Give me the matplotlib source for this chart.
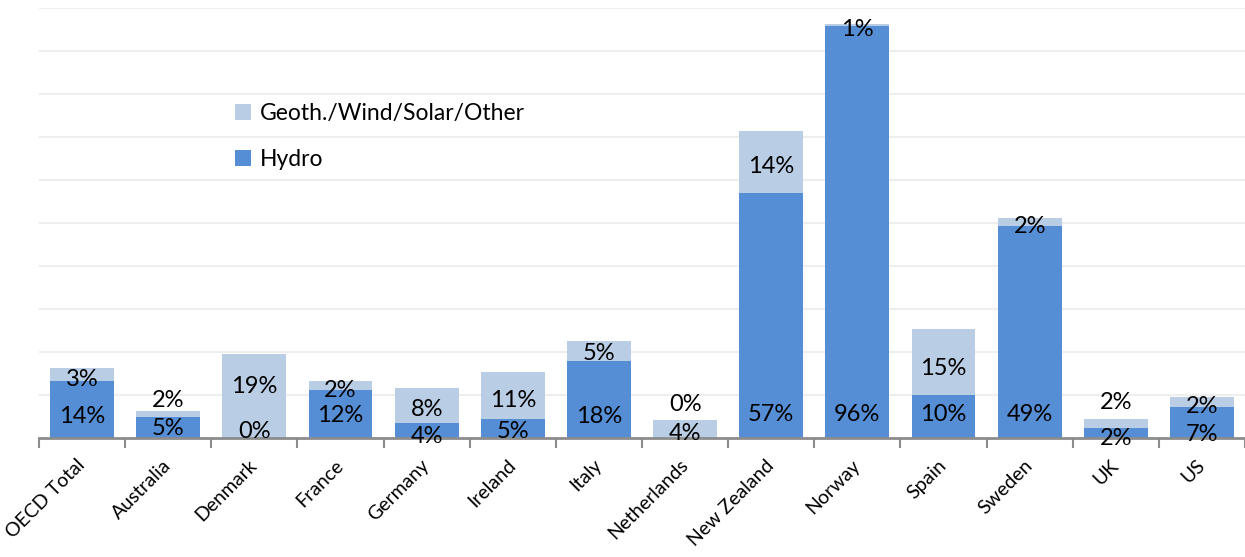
import matplotlib
matplotlib.use("Agg")
import matplotlib.pyplot as plt
import numpy as np

# --- data (percent of electricity generation) ---
countries = ['OECD Total', 'Australia', 'Denmark', 'France', 'Germany', 'Ireland', 'Italy',
             'Netherlands', 'New Zealand', 'Norway', 'Spain', 'Sweden', 'UK', 'US']
hydro = [13.2, 4.8, 0.0, 11.0, 3.4, 4.3, 17.9, 0.0, 56.9, 95.7, 9.8, 49.2, 2.1, 7.2]
other = [3.0, 1.4, 19.4, 2.1, 8.2, 10.9, 4.5, 4.1, 14.4, 0.5, 15.4, 1.8, 2.3, 2.2]
hydro_labels = ['14%', '5%', '0%', '12%', '4%', '5%', '18%', '4%', '57%', '96%', '10%', '49%', '2%', '7%']
other_labels = ['3%', '2%', '19%', '2%', '8%', '11%', '5%', '0%', '14%', '1%', '15%', '2%', '2%', '2%']

# label placement (data units, visual centre of text) as in the original chart
hydro_label_y = [5.4, 2.6, 1.9, 5.6, 0.7, 1.9, 5.4, 1.4, 5.8, 5.8, 5.8, 5.8, 0.2, 1.2]
other_label_y = [14.0, 9.1, 12.4, 11.4, 7.0, 9.1, 19.9, 8.2, 63.6, 95.3, 16.6, 49.5, 8.6, 7.7]

HYDRO_COLOR = '#558ED5'
OTHER_COLOR = '#B9CDE5'
FONT = ['Lato', 'DejaVu Sans']

plt.rcParams['font.family'] = FONT

fig = plt.figure(figsize=(12.45, 5.57), dpi=100)
ax = fig.add_axes([39 / 1245, (557 - 437.5) / 557, (1245 - 39) / 1245, (437.5 - 7.5) / 557])

x = np.arange(len(countries))
width = 0.74
ax.bar(x, hydro, width, color=HYDRO_COLOR, label='Hydro', zorder=2)
ax.bar(x, other, width, bottom=hydro, color=OTHER_COLOR, label='Geoth./Wind/Solar/Other', zorder=2)

# data labels
for i in range(len(countries)):
    ax.text(x[i], hydro_label_y[i], hydro_labels[i], ha='center', va='center_baseline',
            fontsize=17, color='black', zorder=4)
    ax.text(x[i], other_label_y[i], other_labels[i], ha='center', va='center_baseline',
            fontsize=17, color='black', zorder=4)

ax.set_xlim(-0.5, len(countries) - 0.5)
ax.set_ylim(0, 100)

# gridlines, no y labels
ax.set_yticks(np.arange(10, 101, 10))
ax.tick_params(axis='y', length=0, labelleft=False)
ax.yaxis.grid(True, color='#EEEEEE', linewidth=1.5, zorder=0)
ax.set_axisbelow(True)

for s in ['left', 'right', 'top']:
    ax.spines[s].set_visible(False)
ax.spines['bottom'].set_color('#8C8C8C')
ax.spines['bottom'].set_linewidth(2)
ax.spines['bottom'].set_zorder(3)

# category labels at centres, tick marks between categories
ax.set_xticks(x)
ax.set_xticklabels(countries, rotation=45, ha='right', va='center', rotation_mode='anchor',
                   fontsize=14)
ax.tick_params(axis='x', which='major', length=0, pad=18)
ax.set_xticks(np.arange(-0.5, len(countries), 1.0), minor=True)
ax.tick_params(axis='x', which='minor', length=7, width=1.5, color='#8C8C8C', direction='out')

# legend (light series on top)
handles, labels = ax.get_legend_handles_labels()
ax.legend(handles[::-1], labels[::-1], loc='upper left', bbox_to_anchor=(0.155, 0.80),
          frameon=False, fontsize=16.5, handlelength=0.7, handleheight=0.7,
          handletextpad=0.4, labelspacing=1.1, borderaxespad=0)

fig.savefig('out.png', dpi=100)
